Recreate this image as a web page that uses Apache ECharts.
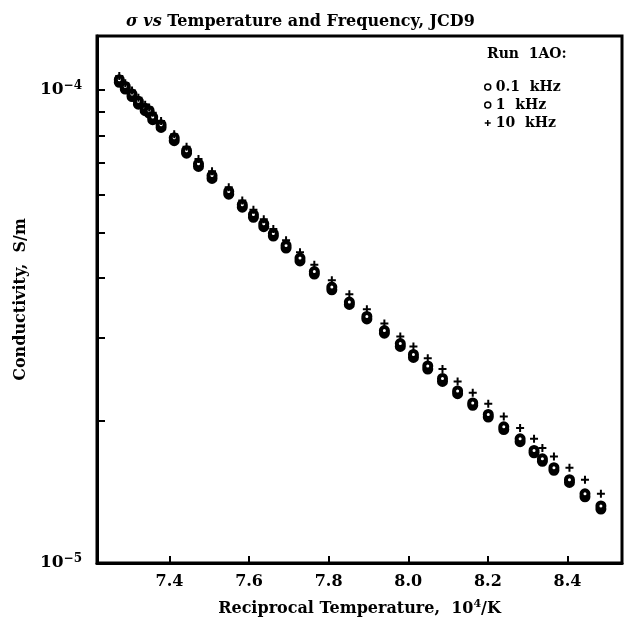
<!DOCTYPE html>
<html>
<head>
<meta charset="utf-8">
<script src="https://cdn.jsdelivr.net/npm/echarts@6/dist/echarts.min.js"></script>
<style>
html,body{margin:0;padding:0;background:#fff;}
#chart{width:627px;height:623px;}
</style>
</head>
<body>
<div id="chart"></div>
<script>
// Reciprocal temperature, 10^4/K
const recipTemp = [7.274, 7.289, 7.306, 7.322, 7.339, 7.349, 7.358, 7.379, 7.412, 7.443,
  7.473, 7.507, 7.549, 7.583, 7.611, 7.637, 7.661, 7.693, 7.728, 7.764,
  7.808, 7.852, 7.896, 7.940, 7.980, 8.013, 8.049, 8.086, 8.124, 8.162,
  8.201, 8.240, 8.281, 8.316, 8.337, 8.366, 8.405, 8.444, 8.484];
// Conductivity, S/m
const sigma01kHz = [1.038e-4, 1.004e-4, 9.68e-5, 9.33e-5, 9.04e-5, 8.93e-5, 8.65e-5, 8.33e-5, 7.81e-5, 7.35e-5,
  6.89e-5, 6.50e-5, 6.02e-5, 5.65e-5, 5.38e-5, 5.14e-5, 4.91e-5, 4.63e-5, 4.35e-5, 4.08e-5,
  3.78e-5, 3.52e-5, 3.28e-5, 3.06e-5, 2.87e-5, 2.72e-5, 2.57e-5, 2.42e-5, 2.28e-5, 2.155e-5,
  2.035e-5, 1.915e-5, 1.805e-5, 1.71e-5, 1.64e-5, 1.57e-5, 1.48e-5, 1.38e-5, 1.30e-5];
const sigma1kHz = [1.051e-4, 1.017e-4, 9.80e-5, 9.46e-5, 9.15e-5, 9.04e-5, 8.76e-5, 8.44e-5, 7.92e-5, 7.44e-5,
  6.98e-5, 6.59e-5, 6.10e-5, 5.72e-5, 5.45e-5, 5.21e-5, 4.97e-5, 4.69e-5, 4.41e-5, 4.13e-5,
  3.83e-5, 3.56e-5, 3.32e-5, 3.10e-5, 2.91e-5, 2.76e-5, 2.61e-5, 2.455e-5, 2.31e-5, 2.18e-5,
  2.06e-5, 1.94e-5, 1.83e-5, 1.73e-5, 1.66e-5, 1.59e-5, 1.50e-5, 1.40e-5, 1.32e-5];
const sigma10kHz = [1.070e-4, 1.033e-4, 9.97e-5, 9.63e-5, 9.30e-5, 9.18e-5, 8.95e-5, 8.60e-5, 8.06e-5, 7.58e-5,
  7.14e-5, 6.73e-5, 6.23e-5, 5.84e-5, 5.58e-5, 5.33e-5, 5.08e-5, 4.81e-5, 4.54e-5, 4.27e-5,
  3.96e-5, 3.70e-5, 3.44e-5, 3.21e-5, 3.01e-5, 2.87e-5, 2.71e-5, 2.57e-5, 2.42e-5, 2.29e-5,
  2.17e-5, 2.04e-5, 1.93e-5, 1.83e-5, 1.75e-5, 1.68e-5, 1.59e-5, 1.50e-5, 1.40e-5];
const xTickValues = [7.4, 7.6, 7.8, 8.0, 8.2, 8.4];
const yLabelValues = [1e-5, 1e-4];
const yTickValues = [1e-5, 2e-5, 3e-5, 4e-5, 5e-5, 6e-5, 7e-5, 8e-5, 9e-5, 1e-4];
const seriesNames = ['0.1  kHz', '1  kHz', '10  kHz'];

const FONT = 'DejaVu Serif';
const pair = (ys) => recipTemp.map((x, i) => [x, ys[i]]);
const plusPath = 'path://M3,0H5V3H8V5H5V8H3V5H0V3H3Z';

const chart = echarts.init(document.getElementById('chart'), null, {renderer: 'canvas'});
chart.setOption({
  animation: false,
  backgroundColor: '#fff',
  title: {
    text: '{i|σ vs} Temperature and Frequency, JCD9',
    left: 121, top: 9,
    textStyle: {
      fontFamily: FONT, fontWeight: 'bold', fontSize: 16, color: '#000',
      rich: { i: { fontFamily: FONT, fontStyle: 'italic', fontWeight: 'bold', fontSize: 16, color: '#000' } }
    }
  },
  graphic: [{
    type: 'text', left: 487, top: 47,
    style: { text: 'Run  1AO:', fontFamily: FONT, fontWeight: 'bold', fontSize: 14, fill: '#000' }
  }],
  legend: {
    orient: 'vertical', left: 479, top: 75,
    itemWidth: 6, itemHeight: 6, itemGap: 4,
    data: seriesNames,
    itemStyle: { borderWidth: 1.5 },
    textStyle: { fontFamily: FONT, fontWeight: 'bold', fontSize: 14, color: '#000' }
  },
  grid: {
    left: 97, right: 5, top: 36, bottom: 60,
    show: true, borderColor: '#000', borderWidth: 3, containLabel: false
  },
  xAxis: {
    type: 'value', min: 7.218, max: 8.537,
    name: '{a|Reciprocal Temperature,  10}{s|4}{a|/K}',
    nameLocation: 'middle', nameGap: 36,
    nameTextStyle: {
      rich: {
        a: { fontFamily: FONT, fontWeight: 'bold', fontSize: 16, color: '#000' },
        s: { fontFamily: FONT, fontWeight: 'bold', fontSize: 11, color: '#000', verticalAlign: 'top', padding: [0, 0, 8, 0] }
      }
    },
    axisLine: { show: true, lineStyle: { color: '#000', width: 3 } },
    axisTick: { show: true, inside: true, length: 7, customValues: xTickValues, lineStyle: { color: '#000', width: 2 } },
    axisLabel: {
      customValues: xTickValues, margin: 11,
      fontFamily: FONT, fontWeight: 'bold', fontSize: 16, color: '#000',
      formatter: (v) => v.toFixed(1)
    },
    splitLine: { show: false }
  },
  yAxis: {
    type: 'log', logBase: 10, min: 1e-5, max: 1.3e-4,
    name: 'Conductivity,  S/m',
    nameLocation: 'middle', nameGap: 61,
    nameTextStyle: { fontFamily: FONT, fontWeight: 'bold', fontSize: 16, color: '#000' },
    axisLine: { show: true, lineStyle: { color: '#000', width: 3 } },
    axisTick: { show: true, inside: true, length: 8, customValues: yTickValues, lineStyle: { color: '#000', width: 2 } },
    minorTick: { show: false },
    axisLabel: {
      customValues: yLabelValues, margin: 15,
      formatter: (v) => '{b|10}{s|−' + Math.round(-Math.log10(v)) + '}',
      rich: {
        b: { fontFamily: FONT, fontWeight: 'bold', fontSize: 17, color: '#000' },
        s: { fontFamily: FONT, fontWeight: 'bold', fontSize: 12, color: '#000', verticalAlign: 'top', padding: [0, 0, 9, 0] }
      }
    },
    splitLine: { show: false }
  },
  series: [
    {
      name: seriesNames[0], type: 'scatter', data: pair(sigma01kHz),
      symbol: 'circle', symbolSize: 7,
      itemStyle: { color: '#fff', borderColor: '#000', borderWidth: 4, opacity: 1 }
    },
    {
      name: seriesNames[1], type: 'scatter', data: pair(sigma1kHz),
      symbol: 'circle', symbolSize: 7,
      itemStyle: { color: '#fff', borderColor: '#000', borderWidth: 4, opacity: 1 }
    },
    {
      name: seriesNames[2], type: 'scatter', data: pair(sigma10kHz),
      symbol: plusPath, symbolSize: 8,
      itemStyle: { color: '#000', opacity: 1 }
    }
  ]
});
</script>
</body>
</html>
